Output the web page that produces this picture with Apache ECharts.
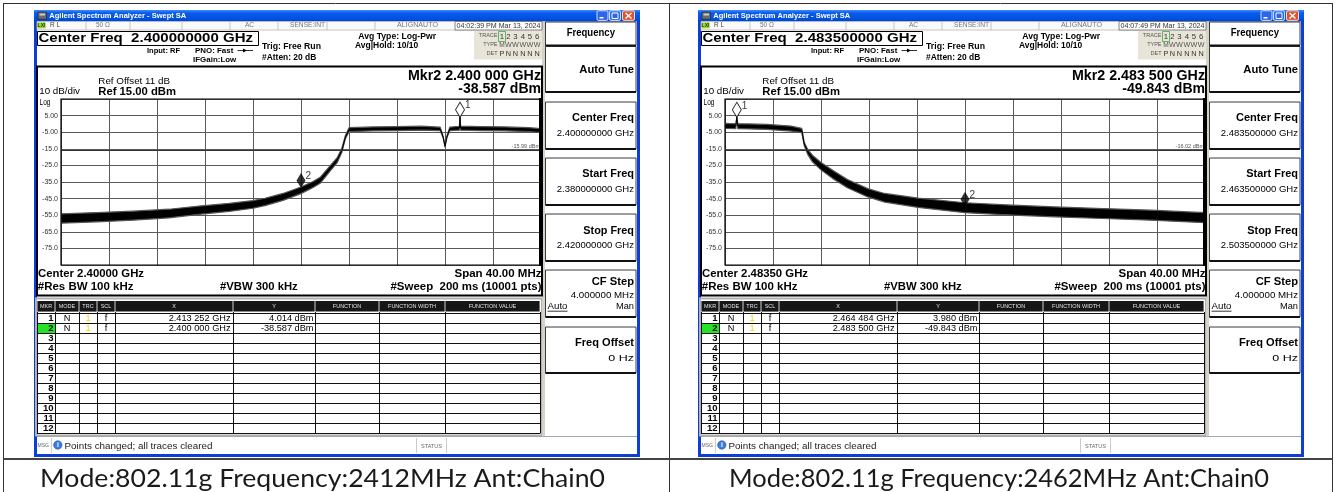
<!DOCTYPE html>
<html><head><meta charset="utf-8">
<script src="https://cdn.jsdelivr.net/npm/echarts@6/dist/echarts.min.js"></script>
<style>html,body{margin:0;padding:0;background:#fff}#c{width:1335px;height:492px}</style>
</head><body><div id="c"></div>
<script>
// ===================== DATA =====================
const centerFreqs = [2400, 2483.5];           // MHz, centre of each screen
const xTickStep = 4;                          // MHz per division
const yTickValues = [5, -5, -15, -25, -35, -45, -55, -65, -75];
const displayLines = [-15.99, -16.02];
const displayLabels = ['-15.99 dBm', '-16.02 dBm'];

// left trace (2.38 - 2.42 GHz)
const freqL   = [2380, 2383, 2386, 2389, 2391.5, 2394, 2396, 2397, 2398.5, 2400, 2401, 2401.6, 2402.4, 2403, 2403.4, 2403.7, 2404, 2406, 2408, 2410, 2411.6, 2411.85, 2412, 2412.15, 2412.4, 2413.2, 2413.25, 2413.3, 2415, 2417, 2419, 2420];
const levelL  = [-57, -56.2, -55.3, -54, -52, -50.3, -48.5, -47, -44, -40, -36.5, -34, -27, -22, -16, -8, -3.5, -3, -2.8, -2.6, -3, -8, -13.5, -8, -3, -2.6, 4.0, -2.6, -2.8, -3, -3.5, -4];
const spreadL = [2.8, 2.8, 2.7, 2.6, 2.5, 2.4, 2.3, 2.2, 2.1, 2.0, 1.8, 1.8, 1.6, 1.5, 1.2, 1.0, 1.2, 1.2, 1.2, 1.2, 1.0, 0.5, 0.3, 0.5, 1.0, 1.2, 0, 1.2, 1.2, 1.2, 1.2, 1.2];
// right trace (2.4635 - 2.5035 GHz)
const freqR   = [2463.5, 2464.4, 2464.484, 2464.57, 2465.5, 2467, 2469, 2469.9, 2470.1, 2470.4, 2470.8, 2471.5, 2472.6, 2473.7, 2475.4, 2476.8, 2479.6, 2483.5, 2487, 2491, 2495, 2499, 2503.5];
const levelR  = [-1.2, -1.4, 3.98, -1.4, -1.5, -1.8, -2.8, -4, -12, -17, -21, -25.5, -31, -36, -41.5, -44.5, -47.5, -50.5, -51.8, -53, -54, -55, -56.5];
const spreadR = [1.5, 1.5, 0, 1.5, 1.5, 1.5, 1.5, 1.3, 1.0, 1.5, 2, 2.2, 2.5, 2.5, 2.5, 2.6, 2.8, 3, 3, 3, 3, 3, 3];

const markersL = [[2413.252, 4.014], [2400.000, -38.587]];
const markersR = [[2464.484, 3.980], [2483.500, -49.843]];

const tableRowsL = [['2.413 252 GHz', '4.014 dBm'], ['2.400 000 GHz', '-38.587 dBm']];
const tableRowsR = [['2.464 484 GHz', '3.980 dBm'], ['2.483 500 GHz', '-49.843 dBm']];

const screenTexts = [
  {cfTitle: 'Center Freq  2.400000000 GHz', time: '04:02:39 PM Mar 13, 2024', mkrF: 'Mkr2 2.400 000 GHz', mkrV: '-38.587 dBm',
   center: 'Center 2.40000 GHz', cf: '2.400000000 GHz', start: '2.380000000 GHz', stop: '2.420000000 GHz'},
  {cfTitle: 'Center Freq  2.483500000 GHz', time: '04:07:49 PM Mar 13, 2024', mkrF: 'Mkr2 2.483 500 GHz', mkrV: '-49.843 dBm',
   center: 'Center 2.48350 GHz', cf: '2.483500000 GHz', start: '2.463500000 GHz', stop: '2.503500000 GHz'}
];
const captions = ['Mode:802.11g Frequency:2412MHz Ant:Chain0', 'Mode:802.11g Frequency:2462MHz Ant:Chain0'];
const tableHeaders = ['MKR', 'MODE', 'TRC', 'SCL', 'X', 'Y', 'FUNCTION', 'FUNCTION WIDTH', 'FUNCTION VALUE'];

// ===================== DRAW HELPERS =====================
const UI = '"Liberation Sans", Arial, sans-serif';
const G = [];
const cv = document.createElement('canvas').getContext('2d');
function mw(s, font) { cv.font = font; return cv.measureText(s).width; }
function R(x, y, w, h, fill, stroke, lw, z, r) {
  G.push({type: 'rect', silent: true, z: z == null ? 5 : z, shape: {x, y, width: w, height: h, r: r || 0},
    style: {fill: fill || 'none', stroke: stroke || 'none', lineWidth: lw || 1}});
}
function L(x1, y1, x2, y2, stroke, lw, z) {
  G.push({type: 'line', silent: true, z: z == null ? 6 : z, shape: {x1, y1, x2, y2}, style: {stroke: stroke || '#000', lineWidth: lw || 1}});
}
function T(x, y, text, o) {
  o = o || {};
  const size = o.s || 9, fam = o.f || UI;
  const font = (o.b ? 'bold ' : '') + size + 'px ' + fam;
  let sx = 1;
  if (o.w) sx = o.w / mw(text, font);
  const a = o.a || 'left';
  G.push({type: 'text', silent: true, z: o.z || 20, x, y, scaleX: sx,
    style: {text, font, fill: o.c || '#000', align: a, verticalAlign: 'middle', textAlign: a, textVerticalAlign: 'middle'}});
}
const BLUE = '#0B3FD8';
const TITLE_GRAD = {type: 'linear', x: 0, y: 0, x2: 0, y2: 1, colorStops: [
  {offset: 0, color: '#3C8CFE'}, {offset: 0.25, color: '#0A5CEC'}, {offset: 0.8, color: '#0050E0'}, {offset: 1, color: '#0040C8'}]};

function drawWindow(dx, W, rows) {
  const X = v => v + dx;
  // frame
  R(X(34), 10, 3, 447, BLUE, null, 1, 4);
  R(X(637), 10, 3, 447, BLUE, null, 1, 4);
  R(X(34), 454, 606, 3, BLUE, null, 1, 4);
  R(X(34), 10, 606, 11.5, TITLE_GRAD, null, 1, 4);
  R(X(38), 12.2, 8.5, 7, '#6a6a6a', '#222', 0.6, 6);
  R(X(39.5), 13.5, 5.5, 2, '#ccc', null, 1, 7);
  T(X(49.3), 15.8, 'Agilent Spectrum Analyzer - Swept SA', {s: 8, b: true, c: '#fff', w: 137});
  // window buttons
  R(X(597), 10.8, 11, 9.6, '#2C66EA', '#fff', 0.8, 6, 1.5);
  R(X(599.5), 17, 4, 1.5, '#fff', null, 1, 7);
  R(X(609.5), 10.8, 11, 9.6, '#2C66EA', '#fff', 0.8, 6, 1.5);
  R(X(612), 13, 6, 5.5, 'none', '#fff', 1, 7);
  R(X(622.5), 10.8, 12, 9.6, '#E2542D', '#fff', 0.8, 6, 1.5);
  L(X(625.5), 13, X(631.5), 18.5, '#fff', 1.4, 7); L(X(631.5), 13, X(625.5), 18.5, '#fff', 1.4, 7);
  // status row
  R(X(37), 21.5, 505, 8.5, '#fafafa', '#b8b8b8', 0.8, 4);
  [86, 130, 182, 230, 278, 327, 375].forEach(v => L(X(v), 21.5, X(v), 30, '#b8b8b8', 0.8));
  R(X(37.5), 22.3, 8, 6.2, '#A5D63A', null, 1, 6);
  T(X(41.5), 25.5, 'LXI', {s: 5, b: true, c: '#1B3A00', a: 'center'});
  T(X(50), 25.5, 'R L', {s: 6.5, c: '#444'});
  T(X(96), 25.5, '50 \u03A9', {s: 6.5, c: '#777'});
  T(X(254), 25.5, 'AC', {s: 6.5, c: '#777', a: 'right'});
  T(X(290), 25.5, 'SENSE:INT', {s: 6.5, c: '#777', w: 35});
  T(X(438), 25.5, 'ALIGNAUTO', {s: 6.5, c: '#777', a: 'right', w: 41});
  R(X(455), 21.5, 87, 8.5, '#fff', '#666', 0.8, 5);
  T(X(456.5), 25.8, W.time, {s: 6.8, c: '#333', w: 84});
  // centre freq box & settings
  R(X(37.5), 31.5, 221, 14, '#fff', '#000', 1, 5);
  T(X(38.5), 38.8, W.cfTitle, {s: 12, b: true, w: 214.5});
  T(X(147), 51, 'Input: RF', {s: 7.5, b: true, w: 33});
  T(X(195), 51, 'PNO: Fast', {s: 7.5, b: true, w: 38.3});
  L(X(237.5), 50.5, X(253), 50.5, '#000', 0.8);
  G.push({type: 'polygon', silent: true, z: 7, shape: {points: [[X(243), 48.5], [X(247), 50.5], [X(243), 52.5]]}, style: {fill: '#000'}});
  T(X(193), 60.3, 'IFGain:Low', {s: 7.5, b: true, w: 43.3});
  T(X(262), 46.7, 'Trig: Free Run', {s: 9, b: true, w: 59});
  T(X(262), 57.3, '#Atten: 20 dB', {s: 8.5, b: true, w: 54.3});
  T(X(358.3), 36.7, 'Avg Type: Log-Pwr', {s: 9, b: true, w: 77.7});
  T(X(355), 45.7, 'Avg|Hold: 10/10', {s: 8.5, b: true, w: 63.3});
  // trace box
  R(X(474), 30, 68, 29.5, '#E8E5D8', null, 1, 4);
  T(X(497.5), 35.3, 'TRACE', {s: 5.5, c: '#555', a: 'right'});
  T(X(497.5), 44.3, 'TYPE', {s: 5.5, c: '#555', a: 'right'});
  T(X(497.5), 53.3, 'DET', {s: 5.5, c: '#555', a: 'right'});
  R(X(498.5), 31.5, 7, 10, 'none', '#3BAA3B', 0.8, 6);
  const tx = [501.9, 508.3, 515.3, 522.8, 530, 537.2];
  const dets = ['P', 'N', 'N', 'N', 'N', 'N'];
  tx.forEach((v, k) => {
    T(X(v), 36.5, String(k + 1), {s: 7.8, c: '#333', a: 'center'});
    T(X(v), 45, k === 0 ? 'M' : 'W', {s: 6.5, c: '#555', a: 'center', w: k === 0 ? 5.5 : 6.8});
    T(X(v), 53.5, dets[k], {s: 7.3, c: '#333', a: 'center'});
  });
  // plot section
  R(X(37), 66.5, 505, 229, 'none', '#000', 2, 30);
  R(X(61), 99, 480, 166, 'none', '#000', 1.2, 30);
  L(X(540.5), 98, X(540.5), 266, '#000', 3, 31);
  T(X(541), 75.8, W.mkrF, {s: 15, b: true, a: 'right', w: 133});
  T(X(541), 88.9, W.mkrV, {s: 15, b: true, a: 'right', w: 82.7});
  T(X(98.3), 81.2, 'Ref Offset 11 dB', {s: 9.3, w: 71.7});
  T(X(39.3), 91.5, '10 dB/div', {s: 9.5, w: 40.7});
  T(X(98.3), 92, 'Ref 15.00 dBm', {s: 11.5, b: true, w: 77.7});
  T(X(39.5), 103, 'Log', {s: 8.5, w: 11});
  T(X(38), 274, W.center, {s: 11.5, b: true, w: 106});
  T(X(37.8), 286.8, '#Res BW 100 kHz', {s: 11.5, b: true, w: 95.6});
  T(X(220), 286.8, '#VBW 300 kHz', {s: 11.5, b: true, w: 77.7});
  T(X(541.5), 274, 'Span 40.00 MHz', {s: 11.5, b: true, a: 'right', w: 87});
  T(X(541.5), 286.8, '#Sweep  200 ms (10001 pts)', {s: 11.5, b: true, a: 'right', w: 151});
  // marker table
  R(X(36), 298.5, 506, 137, '#fff', '#b0b0b0', 2, 4);
  const cols = [37, 55, 79, 97, 115, 233, 315, 379, 445, 540];
  for (let c = 0; c < cols.length - 1; c++) {
    R(X(cols[c] + 0.4), 301, cols[c + 1] - cols[c] - 0.8, 10.6, '#161616', null, 1, 6);
    T(X((cols[c] + cols[c + 1]) / 2), 306.5, tableHeaders[c], {s: 5.5, c: '#e0e0e0', a: 'center'});
  }
  R(X(37), 323.5, 18, 10, '#27E327', null, 1, 5);
  for (let k = 0; k <= 12; k++) L(X(37), 313.5 + 10 * k, X(540), 313.5 + 10 * k, '#111', 1, 7);
  cols.forEach(v => L(X(v + 0.5), 312, X(v + 0.5), 433.5, '#111', 1, 7));
  for (let k = 1; k <= 12; k++) T(X(53.5), 318.6 + 10 * (k - 1), String(k), {s: 9.5, b: true, a: 'right'});
  rows.forEach((r, k) => {
    const y = 318.6 + 10 * k;
    T(X(67), y, 'N', {s: 9.2, a: 'center'});
    T(X(88), y, '1', {s: 9.2, a: 'center', c: '#F2D200'});
    T(X(106), y, 'f', {s: 9.2, a: 'center'});
    T(X(230.5), y, r[0], {s: 9.2, a: 'right'});
    T(X(313.5), y, r[1], {s: 9.2, a: 'right'});
  });
  // message bar
  L(X(37), 436.5, X(637), 436.5, '#a8a8a8', 1.2);
  T(X(37.5), 446, 'MSG', {s: 5, c: '#666'});
  L(X(51.5), 438, X(51.5), 453, '#ccc', 1);
  G.push({type: 'circle', silent: true, z: 8, shape: {cx: X(57.8), cy: 445, r: 4.2}, style: {fill: '#3C7BE0', stroke: '#1C4FB0', lineWidth: 0.6}});
  T(X(57.8), 445.3, 'i', {s: 6.5, b: true, c: '#fff', a: 'center'});
  T(X(64.5), 446.2, 'Points changed; all traces cleared', {s: 9.5, c: '#222', w: 148});
  L(X(416.5), 438, X(416.5), 453, '#ccc', 1);
  L(X(446.5), 438, X(446.5), 453, '#ccc', 1);
  T(X(431.5), 446, 'STATUS', {s: 5.5, c: '#666', a: 'center'});
  // side panel
  R(X(542), 21.5, 3, 415, '#D6D2C8', null, 1, 4);
  const btns = [
    {y0: 22, y1: 45.5, t: 'Frequency', ty: 33.5, tw: 48.3, center: true},
    {y0: 46.5, y1: 92, t: 'Auto Tune', ty: 70, tw: 54.7},
    {y0: 102, y1: 149, t: 'Center Freq', ty: 118.3, tw: 62, v: W.cf, vy: 133.3, vw: 77.3},
    {y0: 158, y1: 205, t: 'Start Freq', ty: 174.3, tw: 51.7, v: W.start, vy: 189.3, vw: 77.3},
    {y0: 214, y1: 261, t: 'Stop Freq', ty: 230.7, tw: 50.7, v: W.stop, vy: 245.7, vw: 77.3},
    {y0: 270, y1: 317, t: 'CF Step', ty: 281.7, tw: 42.3, v: '4.000000 MHz', vy: 295.7, vw: 63.3, am: 306.7},
    {y0: 327, y1: 373, t: 'Freq Offset', ty: 343.3, tw: 59, v: '0 Hz', vy: 359, vw: 25.7}
  ];
  btns.forEach(b => {
    R(X(545.5), b.y0, 90.5, b.y1 - b.y0, '#fff', '#3a3a3a', 1, 5);
    L(X(545.5), b.y1, X(636), b.y1, '#111', 1.8, 6);
    if (b.center) T(X(590.8), b.ty, b.t, {s: 10, b: true, a: 'center', w: b.tw});
    else T(X(634), b.ty, b.t, {s: 11, b: true, a: 'right', w: b.tw});
    if (b.v) T(X(634), b.vy, b.v, {s: 9, a: 'right', w: b.vw});
    if (b.am) {
      T(X(547.5), b.am, 'Auto', {s: 9, w: 20});
      L(X(547.5), b.am + 4.5, X(567.5), b.am + 4.5, '#000', 0.8);
      T(X(634), b.am, 'Man', {s: 9, a: 'right', w: 18});
    }
  });
}

// outer document table
L(3, 3.5, 1333, 3.5, '#333', 1, 2);
L(3.5, 3, 3.5, 492, '#333', 1, 2);
L(669.5, 3, 669.5, 492, '#333', 1, 2);
L(1332.5, 3, 1332.5, 492, '#333', 1, 2);
L(3, 459, 1333, 459, '#444', 2, 2);

drawWindow(0, screenTexts[0], tableRowsL);
drawWindow(664, screenTexts[1], tableRowsR);

T(322.5, 479.5, captions[0], {f: 'Lato, "Open Sans", sans-serif', s: 24.5, c: '#1a1a1a', a: 'center', w: 565});
T(999, 479.5, captions[1], {f: 'Lato, "Open Sans", sans-serif', s: 24.5, c: '#1a1a1a', a: 'center', w: 540});

// ===================== CHART =====================
const traces = [
  {f: freqL, v: levelL, s: spreadL, m: markersL},
  {f: freqR, v: levelR, s: spreadR, m: markersR}
];
const series = [];
traces.forEach((tr, i) => {
  const c = centerFreqs[i];
  const xs = tr.f.map(f => f - c);
  series.push({
    type: 'custom', xAxisIndex: i, yAxisIndex: i, z: 3, silent: true, clip: true,
    data: xs.map((x, k) => [x, tr.v[k] - tr.s[k], tr.v[k] + tr.s[k]]),
    renderItem: (params, api) => {
      if (params.dataIndex !== 0) return;
      const up = [], dn = [];
      for (let k = 0; k < xs.length; k++) {
        up.push(api.coord([xs[k], tr.v[k] + tr.s[k]]));
        dn.push(api.coord([xs[k], tr.v[k] - tr.s[k]]));
      }
      return {type: 'polygon', shape: {points: up.concat(dn.reverse())},
        style: {fill: '#000', stroke: '#555', lineWidth: 1.2, lineJoin: 'round'}};
    }
  });
  series.push({
    type: 'line', xAxisIndex: i, yAxisIndex: i, z: 4, silent: true, showSymbol: false,
    data: xs.map((x, k) => [x, tr.v[k]]),
    lineStyle: {color: '#000', width: 1},
    markLine: {
      silent: true, symbol: ['none', 'none'], animation: false,
      data: [{yAxis: displayLines[i]}],
      lineStyle: {color: '#333', width: 1, type: 'solid'},
      label: {show: true, position: 'insideEndTop', formatter: displayLabels[i], fontSize: 5.5, color: '#555', distance: 1, fontFamily: UI}
    }
  });
  series.push({
    type: 'scatter', xAxisIndex: i, yAxisIndex: i, z: 5, silent: true,
    symbol: 'diamond', symbolSize: [9, 15], symbolOffset: [0, -7.5],
    data: tr.m.map((p, k) => ({
      value: [p[0] - c, p[1]],
      itemStyle: k === 0 ? {color: '#fff', borderColor: '#000', borderWidth: 1} : {color: '#000'},
      label: {show: true, formatter: String(k + 1), position: 'right', distance: 0, offset: [0, -4], fontSize: 10, color: '#000', fontFamily: UI}
    }))
  });
});

const chart = echarts.init(document.getElementById('c'), null, {renderer: 'canvas'});
chart.setOption({
  animation: false,
  backgroundColor: '#fff',
  grid: [{left: 61, top: 99, width: 480, height: 166}, {left: 725, top: 99, width: 480, height: 166}],
  xAxis: [0, 1].map(i => ({
    type: 'value', gridIndex: i, min: -20, max: 20, interval: xTickStep,
    axisLine: {show: false}, axisTick: {show: false}, axisLabel: {show: false},
    splitLine: {show: true, lineStyle: {color: '#5a5a5a', width: 1}}
  })),
  yAxis: [0, 1].map(i => ({
    type: 'value', gridIndex: i, min: -85, max: 15, interval: 5,
    axisLine: {show: false}, axisTick: {show: false},
    axisLabel: {show: true, margin: 3, fontSize: 7, color: '#333', fontFamily: UI,
      formatter: v => yTickValues.includes(v) ? v.toPrecision(3) : ''},
    splitLine: {show: true, lineStyle: {color: ['#5a5a5a', 'rgba(0,0,0,0)'], width: 1}}
  })),
  series: series,
  graphic: {elements: G}
});
</script></body></html>
